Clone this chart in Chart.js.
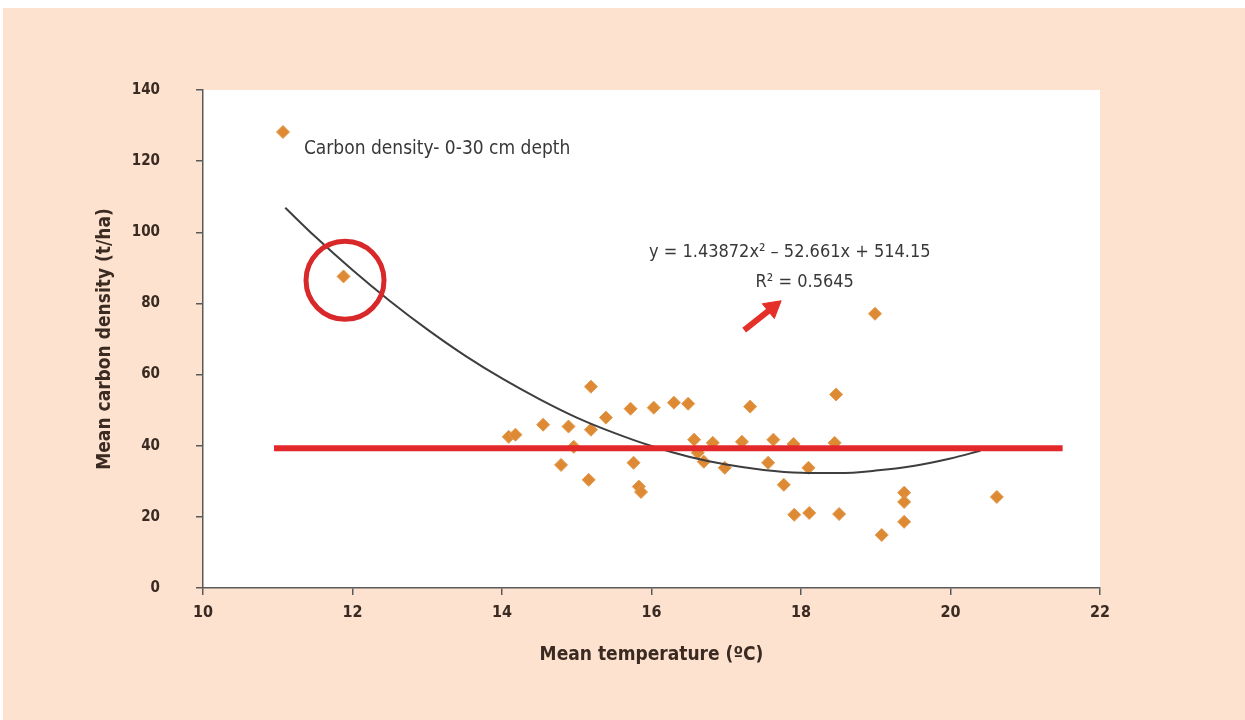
<!DOCTYPE html>
<html>
<head>
<meta charset="utf-8">
<script src="https://cdn.jsdelivr.net/npm/chart.js@4.4.1/dist/chart.umd.min.js"></script>
<style>
  html, body { margin: 0; padding: 0; background: #ffffff; }
  #wrap { position: absolute; left: 3px; top: 8px; width: 1242px; height: 712px; background: #fce2cf; }
  #box { position: absolute; left: 0; top: 0; width: 1245px; height: 720px; }
</style>
</head>
<body>
<div id="wrap"></div>
<div id="box"><canvas id="chart" width="1245" height="720"></canvas></div>
<script>
// ---------- data ----------
const tempX = [11.07, 11.88, 14.09, 14.18, 14.55, 14.79, 14.89, 14.96, 15.16, 15.19, 15.19, 15.39,
  15.72, 15.76, 15.83, 15.86, 16.03, 16.30, 16.49, 16.57, 16.62, 16.70, 16.82, 16.98, 17.21, 17.32,
  17.56, 17.63, 17.77, 17.90, 17.91, 18.10, 18.11, 18.45, 18.47, 18.51, 18.99, 19.08, 19.38, 19.38,
  19.38, 20.62];
const carbonY = [128.2, 87.6, 42.5, 43.1, 45.9, 34.6, 45.4, 39.7, 30.4, 56.6, 44.5, 47.9,
  50.4, 35.2, 28.5, 27.0, 50.7, 52.1, 51.8, 41.7, 38.0, 35.5, 40.8, 33.8, 41.1, 51.0,
  35.2, 41.7, 29.0, 40.5, 20.6, 33.8, 21.1, 40.8, 54.4, 20.8, 77.1, 14.9, 26.8, 24.2,
  18.6, 25.6];

// polynomial trend line as drawn (sampled along the curve)
const trendX = [11.1, 11.5, 12, 12.5, 13, 13.5, 14, 14.5, 15, 15.5, 16, 16.5, 17, 17.5, 18, 18.5, 19, 19.5, 20, 20.4];
const trendY = [106.9, 98.8, 89.4, 80.7, 72.7, 65.4, 58.9, 53.1, 47.9, 43.6, 39.9, 36.9, 34.7, 33.2, 32.4, 32.3, 33.0, 34.3, 36.4, 38.6];

// red mean line, circle and arrow annotations
const meanLineX = [10.95, 21.5];
const meanLineY = [39.3, 39.3];
const circleAt = {x: 11.9, y: 86.5};
const arrowX = [17.24, 17.62];
const arrowY = [72.5, 78.8];

const xTicks = [10, 12, 14, 16, 18, 20, 22];
const yTicks = [0, 20, 40, 60, 80, 100, 120, 140];

const legendText = "Carbon density- 0-30 cm depth";
const eqText = "y = 1.43872x\u00B2 \u2013 52.661x + 514.15";
const r2Text = "R\u00B2 = 0.5645";

const narrow = '"Liberation Sans Narrow", "DejaVu Sans Condensed", "Liberation Sans", sans-serif';
const toPts = (xs, ys) => xs.map((x, i) => ({x: x, y: ys[i]}));

// white plot area + text annotations
const decor = {
  id: 'decor',
  beforeDraw(chart) {
    const a = chart.chartArea, c = chart.ctx;
    c.save();
    c.fillStyle = '#ffffff';
    c.fillRect(a.left, a.top, a.right - a.left, a.bottom - a.top);
    c.restore();
  },
  afterDatasetsDraw(chart) {
    const c = chart.ctx, sx = chart.scales.x, sy = chart.scales.y;
    c.save();
    c.fillStyle = '#383838';
    c.textBaseline = 'middle';
    c.font = '19px ' + narrow;
    c.textAlign = 'left';
    c.fillText(legendText, sx.getPixelForValue(11.35), sy.getPixelForValue(123.5));
    c.font = '18px ' + narrow;
    c.textAlign = 'center';
    c.fillText(eqText, sx.getPixelForValue(17.85), sy.getPixelForValue(94.5));
    c.fillText(r2Text, sx.getPixelForValue(18.05), sy.getPixelForValue(86.0));
    c.restore();
  }
};

new Chart(document.getElementById('chart'), {
  type: 'scatter',
  data: {
    datasets: [
      {
        label: 'arrow', type: 'line', data: toPts(arrowX, arrowY), order: 0,
        borderColor: '#e5302a', borderWidth: 6, showLine: true,
        pointRadius: [0, 11], pointStyle: 'triangle', rotation: 51,
        pointBackgroundColor: '#e5302a', pointBorderColor: '#e5302a', pointBorderWidth: 1
      },
      {
        label: 'circle', data: [circleAt], order: 1,
        pointRadius: 39, pointStyle: 'circle', backgroundColor: 'rgba(0,0,0,0)',
        borderColor: '#d9282a', borderWidth: 5
      },
      {
        label: 'mean', type: 'line', data: toPts(meanLineX, meanLineY), order: 2,
        borderColor: '#e3282b', borderWidth: 6, pointRadius: 0
      },
      {
        label: 'trend', type: 'line', data: toPts(trendX, trendY), order: 3,
        borderColor: '#3e3e3e', borderWidth: 2, pointRadius: 0,
        cubicInterpolationMode: 'monotone'
      },
      {
        label: legendText, data: toPts(tempX, carbonY), order: 4,
        pointStyle: 'rectRot', pointRadius: 6.5,
        backgroundColor: '#de8a34', borderColor: '#e39a4c', borderWidth: 1
      }
    ]
  },
  options: {
    responsive: false,
    animation: false,
    events: [],
    layout: { padding: { left: 0, right: 145, top: 90, bottom: 0 } },
    plugins: { legend: { display: false }, tooltip: { enabled: false } },
    scales: {
      x: {
        type: 'linear', min: 10, max: 22,
        afterFit: s => { s.height = 132; },
        afterBuildTicks: s => { s.ticks = xTicks.map(v => ({value: v})); },
        grid: { display: true, drawOnChartArea: false, tickLength: 7, color: '#5a5a5a', lineWidth: 1.5 },
        border: { display: true, color: '#5a5a5a', width: 1.5 },
        ticks: { color: '#3a2a22', padding: 8, font: { family: narrow, size: 16, weight: 'bold' } },
        title: {
          display: true, text: 'Mean temperature (\u00BAC)', color: '#3a2a22',
          font: { family: narrow, size: 19, weight: 'bold' }, padding: { top: 0, bottom: 54 }
        }
      },
      y: {
        type: 'linear', min: 0, max: 140,
        afterFit: s => { s.width = 203; },
        afterBuildTicks: s => { s.ticks = yTicks.map(v => ({value: v})); },
        grid: { display: true, drawOnChartArea: false, tickLength: 7, color: '#5a5a5a', lineWidth: 1.5 },
        border: { display: true, color: '#5a5a5a', width: 1.5 },
        ticks: { color: '#3a2a22', padding: 36, font: { family: narrow, size: 15, weight: 'bold' } },
        title: {
          display: true, text: 'Mean carbon density (t/ha)', color: '#3a2a22',
          font: { family: narrow, size: 19, weight: 'bold' }, padding: { top: 94, bottom: 0 }
        }
      }
    }
  },
  plugins: [decor]
});
</script>
</body>
</html>
